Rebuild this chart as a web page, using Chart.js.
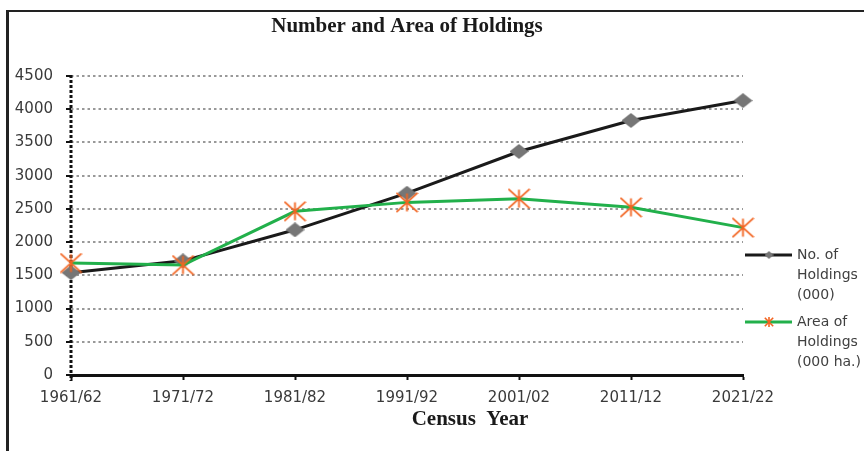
<!DOCTYPE html>
<html>
<head>
<meta charset="utf-8">
<script src="https://cdn.jsdelivr.net/npm/chart.js@4"></script>
<style>
  html, body { margin: 0; padding: 0; background: #ffffff; overflow: hidden; }
  #wrap { position: relative; width: 864px; height: 451px; }
  #frame { position: absolute; left: 6px; top: 10px; width: 900px; height: 500px;
           border-left: 3px solid #222; border-top: 2px solid #222; box-sizing: border-box; }
  #c { position: absolute; left: 0; top: 0; }
</style>
</head>
<body>
<div id="wrap">
  <div id="frame"></div>
  <canvas id="c" width="864" height="451"></canvas>
</div>
<script>
// ---- data ----
const categories = ['1961/62', '1971/72', '1981/82', '1991/92', '2001/02', '2011/12', '2021/22'];
const holdings = [1540, 1718, 2185, 2736, 3364, 3831, 4130];
const area = [1685, 1654, 2464, 2598, 2654, 2523, 2218];
const seriesNames = [['No. of', 'Holdings', '(000)'], ['Area of', 'Holdings', '(000 ha.)']];
const chartTitle = 'Number and Area of Holdings';
const xTitle = 'Census  Year';
const yMin = 0, yMax = 4500, yStep = 500;

// ---- marker images ----
function makeDiamond(w, h, color) {
  const c = document.createElement('canvas');
  c.width = w; c.height = h;
  const g = c.getContext('2d');
  g.fillStyle = color;
  g.beginPath();
  g.moveTo(w / 2, 0); g.lineTo(w, h / 2); g.lineTo(w / 2, h); g.lineTo(0, h / 2);
  g.closePath(); g.fill();
  return c;
}
function makeStar(w, h, vh, lw, color) {
  const c = document.createElement('canvas');
  c.width = w; c.height = h;
  const g = c.getContext('2d');
  g.strokeStyle = color; g.lineWidth = lw; g.lineCap = 'butt';
  const p = lw / 2;
  g.beginPath();
  g.moveTo(p, p); g.lineTo(w - p, h - p);
  g.moveTo(w - p, p); g.lineTo(p, h - p);
  g.moveTo(w / 2, h / 2 - vh); g.lineTo(w / 2, h / 2 + vh);
  g.stroke();
  return c;
}
const BLACK = '#1a1a1a', GREEN = '#22b04b', ORANGE = '#f26522', GREY = '#767676';
const diamondBig = makeDiamond(19, 15, GREY);
const starBig = makeStar(23, 21, 9, 1.8, ORANGE);
const diamondSmall = makeDiamond(9, 8, GREY);
const starSmall = makeStar(10, 10, 5, 1.6, ORANGE);

// ---- plugins ----
const yAxisLine = {
  id: 'yAxisLine',
  beforeDatasetsDraw(chart) {
    const ctx = chart.ctx, a = chart.chartArea;
    ctx.save();
    ctx.strokeStyle = '#111';
    ctx.lineWidth = 3;
    ctx.setLineDash([3, 2]);
    ctx.beginPath();
    ctx.moveTo(a.left, a.top - 1);
    ctx.lineTo(a.left, a.bottom + 6);
    ctx.stroke();
    ctx.restore();
  }
};
const extraText = {
  id: 'extraText',
  afterDraw(chart) {
    const ctx = chart.ctx;
    ctx.save();
    // x axis title
    ctx.fillStyle = BLACK;
    ctx.font = 'bold 21px "Liberation Serif", "Times New Roman", serif';
    ctx.textAlign = 'center';
    ctx.textBaseline = 'middle';
    ctx.fillText(xTitle, 470, 420);
    // legend
    const items = [
      { color: BLACK, marker: diamondSmall, y: 255, lines: seriesNames[0] },
      { color: GREEN, marker: starSmall, y: 322, lines: seriesNames[1] }
    ];
    ctx.font = '14px "DejaVu Sans", sans-serif';
    ctx.textAlign = 'left';
    items.forEach(it => {
      ctx.strokeStyle = it.color;
      ctx.lineWidth = 3;
      ctx.setLineDash([]);
      ctx.beginPath();
      ctx.moveTo(745, it.y);
      ctx.lineTo(792, it.y);
      ctx.stroke();
      ctx.drawImage(it.marker, 769 - it.marker.width / 2, it.y - it.marker.height / 2);
      ctx.fillStyle = '#404040';
      it.lines.forEach((t, i) => ctx.fillText(t, 797, it.y + i * 20));
    });
    ctx.restore();
  }
};

new Chart(document.getElementById('c'), {
  type: 'line',
  data: {
    labels: categories,
    datasets: [
      {
        label: seriesNames[0].join(' '),
        data: holdings,
        borderColor: BLACK,
        backgroundColor: GREY,
        borderWidth: 3,
        tension: 0,
        pointStyle: diamondBig,
        pointRadius: 9,
        order: 2
      },
      {
        label: seriesNames[1].join(' '),
        data: area,
        borderColor: GREEN,
        backgroundColor: ORANGE,
        borderWidth: 3,
        tension: 0,
        pointStyle: starBig,
        pointRadius: 10,
        order: 1
      }
    ]
  },
  options: {
    responsive: false,
    animation: false,
    devicePixelRatio: 1,
    layout: { padding: { left: 0, right: 121, top: 0, bottom: 0 } },
    plugins: {
      legend: { display: false },
      tooltip: { enabled: false },
      title: {
        display: true,
        text: chartTitle,
        fullSize: false,
        color: BLACK,
        font: { family: '"Liberation Serif", "Times New Roman", serif', size: 21, weight: 'bold', lineHeight: 1.2 },
        padding: { top: 14.4, bottom: 36.4 }
      }
    },
    scales: {
      x: {
        offset: false,
        afterFit(s) { s.height = 76; },
        grid: {
          drawOnChartArea: false,
          drawTicks: true,
          tickLength: 5,
          tickWidth: 2,
          tickColor: '#111'
        },
        border: { display: true, color: '#111', width: 3 },
        ticks: {
          color: '#3a3a3a',
          padding: 9,
          maxRotation: 0,
          autoSkip: false,
          font: { family: '"DejaVu Sans", sans-serif', size: 15 }
        }
      },
      y: {
        min: yMin,
        max: yMax,
        afterFit(s) { s.width = 71; },
        ticks: {
          stepSize: yStep,
          color: '#3a3a3a',
          padding: 13,
          font: { family: '"DejaVu Sans", sans-serif', size: 15 },
          callback: (v) => String(v)
        },
        grid: {
          color: (ctx) => (ctx.tick && ctx.tick.value === 0) ? 'rgba(0,0,0,0)' : '#999999',
          lineWidth: 2,
          tickLength: 5,
          tickWidth: 2,
          tickColor: '#111',
          tickBorderDash: []
        },
        border: { display: false, dash: [2.5, 3] }
      }
    }
  },
  plugins: [yAxisLine, extraText]
});
</script>
</body>
</html>
